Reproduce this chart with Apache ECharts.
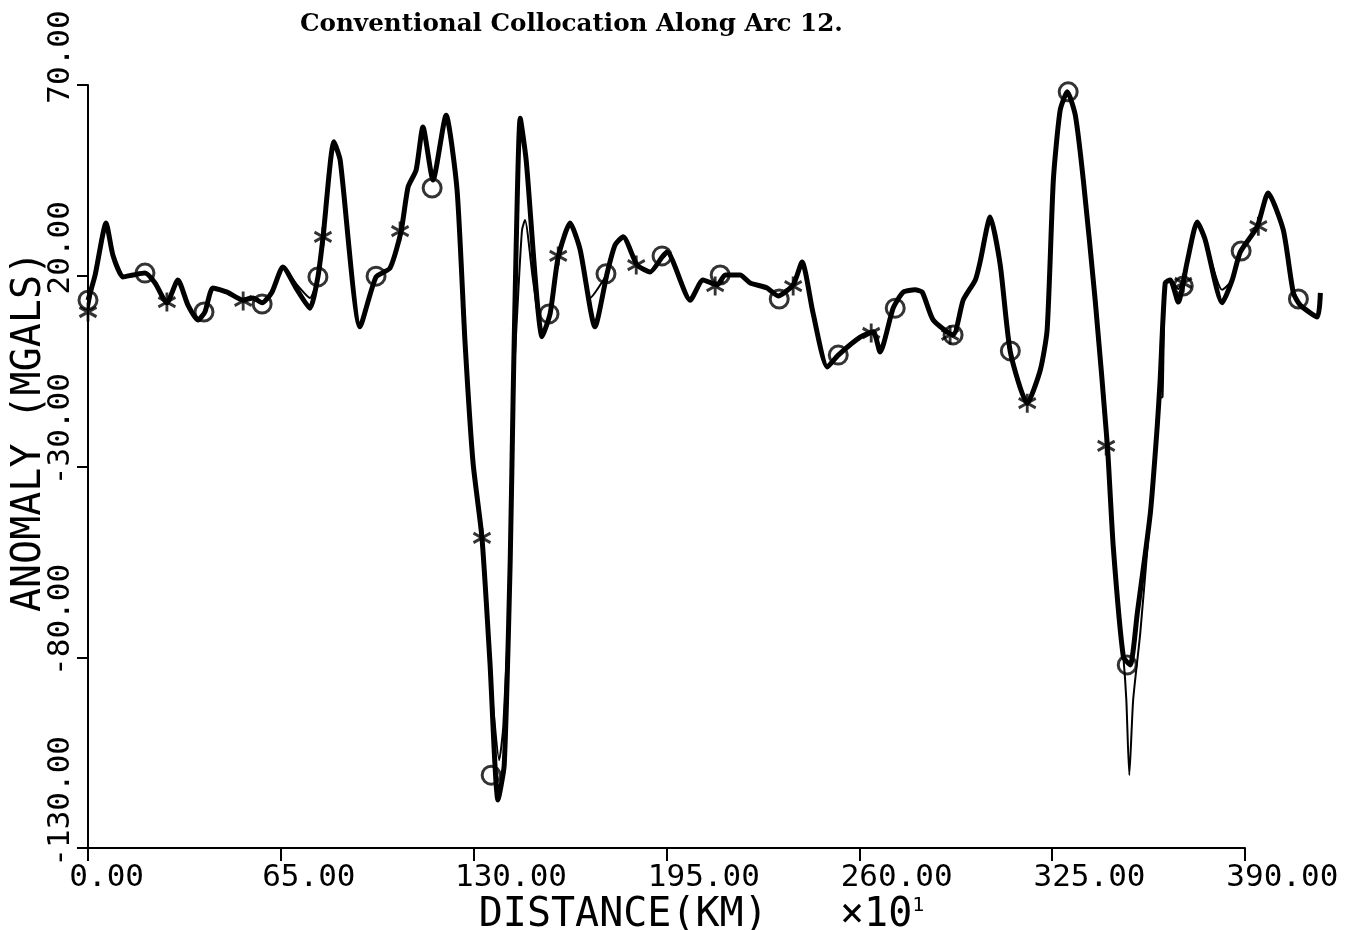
<!DOCTYPE html>
<html><head><meta charset="utf-8">
<script src="https://cdn.jsdelivr.net/npm/echarts@6/dist/echarts.min.js"></script>
<style>html,body{margin:0;padding:0;background:#fff}#c{width:1347px;height:930px}</style>
</head><body><div id="c"></div>
<script>
// Thick curve
const distance = [0,2.4,6.1,8.4,11.8,15.2,19.2,22.6,26.6,30.3,33.7,37.1,39.4,42.1,46.9,52.3,55.6,58.7,62.0,65.7,70.5,74.8,77.5,79.2,82.9,85.0,91.7,97.1,101.8,105.5,107.9,110.6,112.9,116.3,120.7,124.4,127.1,129.8,132.8,135.5,138.2,140.3,142.3,143.3,144.3,145.7,147.7,153.1,155.8,158.5,162.5,165.9,170.9,175.0,177.7,180.4,185.1,189.5,193.5,195.2,203.0,207.3,212.1,214.8,219.8,223.2,228.9,232.6,237.7,240.7,244.4,249.2,252.9,260.3,264.7,267.0,271.4,274.8,278.8,281.2,284.9,291.6,295.0,299.1,300.7,304.1,307.5,310.9,316.6,321.0,323.3,325.4,327.7,330.1,332.8,335.5,339.5,343.6,345.6,349.0,351.3,353.7,358.1,360.4,361.4,363.1,364.8,367.5,370.5,373.9,376.6,382.3,385.7,388.4,394.1,397.8,402.9,406.3,408.6,414.4,415.4];
const anomalyThick = [13.6,20.2,33.8,25.4,19.7,20.2,20.7,18.1,12.9,18.9,12.3,8.4,10.5,16.8,15.7,13.6,14.2,12.9,15.7,22.3,16.3,11.5,19.7,29.9,55.1,50.3,6.6,19.7,22.0,31.5,43.3,47.7,59.0,45.1,62.1,42.5,2.4,-29.1,-48.7,-81.5,-117.4,-108.2,-55.3,-11.8,26.8,61.3,50.3,4.0,10.2,24.9,33.8,26.8,6.6,20.7,28.1,30.2,22.8,21.0,24.9,26.2,13.6,18.9,17.6,20.2,20.2,18.1,16.8,14.7,17.6,23.6,10.2,-3.9,-0.8,3.9,5.3,0.0,11.5,15.7,16.3,15.7,8.4,4.5,13.6,18.9,23.6,35.4,22.8,0.0,-13.4,-4.7,5.8,45.1,63.4,68.2,62.1,45.1,13.6,-24.4,-51.1,-79.9,-82.0,-68.4,-42.2,-19.6,-7.3,18.1,18.9,13.1,23.6,34.1,29.4,12.9,18.9,26.2,32.8,41.7,32.0,15.5,12.3,9.2,15.5];
// Thin curve
const distanceThin = [0,2.4,6.1,8.4,11.8,15.2,19.2,22.6,26.6,30.3,33.7,37.1,39.4,42.1,46.9,52.3,55.6,58.7,62.0,65.7,70.5,74.8,77.5,79.2,82.9,85.0,91.7,97.1,101.8,105.5,107.9,110.6,112.9,116.3,120.7,124.4,127.1,129.8,132.8,135.5,136.8,138.6,140.0,142.3,143.3,145.0,146.3,147.3,150.0,153.1,155.8,158.5,162.5,165.9,169.3,175.0,177.7,180.4,185.1,189.5,193.5,195.2,203.0,207.3,212.1,214.8,219.8,223.2,228.9,232.6,237.7,240.7,244.4,249.2,252.9,260.3,264.7,267.0,271.4,274.8,278.8,281.2,284.9,291.6,295.0,299.1,300.7,304.1,307.5,310.9,316.6,321.0,323.3,325.4,327.7,330.1,332.8,335.5,339.5,343.6,345.6,349.0,350.0,351.0,352.3,354.7,358.1,360.4,361.4,362.2,363.1,364.8,367.5,370.5,373.9,376.6,382.3,385.7,388.4,394.1,397.8,402.9,406.3,408.6,414.4,415.4];
const anomalyThin = [10.5,20.2,33.8,25.4,19.7,20.2,20.7,18.1,12.9,18.9,12.3,8.4,10.5,16.8,15.7,13.6,14.2,12.9,15.7,22.3,17.6,14.2,19.7,29.9,55.1,50.3,6.6,19.7,22.0,31.5,43.3,47.7,59.0,45.1,62.1,42.5,2.4,-29.1,-48.7,-81.5,-95.0,-107.0,-98.0,-58.0,-11.8,15.0,32.0,34.6,18.9,4.0,10.2,24.9,33.8,26.8,14.2,20.7,28.1,30.2,22.8,21.0,24.9,26.2,13.6,18.9,17.6,20.2,20.2,18.1,16.8,14.7,17.6,23.6,10.2,-3.9,-0.8,3.9,5.3,0.0,11.5,15.7,16.3,15.7,8.4,4.5,13.6,18.9,23.6,35.4,22.8,0.0,-13.4,-4.7,5.8,45.1,63.4,68.2,62.1,45.1,13.6,-24.4,-51.1,-79.9,-91.2,-110.9,-91.2,-73.6,-42.2,-19.6,-12.0,-11.8,18.1,18.9,16.5,23.6,34.1,29.4,16.3,18.9,26.2,32.8,41.7,32.0,15.5,12.3,9.2,15.5];
// Circle markers
const circleDistance = [0,19.2,39.1,58.7,77.5,97.1,116.0,135.9,155.4,174.6,193.5,213.1,233.0,252.9,272.1,291.6,310.9,330.4,350.3,369.2,388.7,408.0];
const circleAnomaly = [13.6,20.7,10.5,12.6,19.7,19.9,43.0,-110.9,10.0,20.5,25.2,20.2,13.9,-0.8,11.5,4.5,0.3,68.2,-82.0,17.3,26.5,13.9];
// Asterisk markers
const starDistance = [0,26.6,52.3,79.2,105.2,132.8,158.5,184.8,211.4,237.7,264.0,290.6,316.6,343.2,369.2,394.5];
const starAnomaly = [10.5,13.1,13.4,30.2,31.7,-48.7,25.2,22.8,17.3,17.3,5.0,4.5,-13.4,-24.6,18.1,33.0];
// Axes
const xMin = 0, xMax = 390, xStep = 65;
const xDataMax = 420; // data run past the drawn axis end
const yMin = -130, yMax = 70, yStep = 50;
const yLabelsMain = [-130, -30, 20, 70];
const yLabelsAlt = [-80];
const titleText = 'Conventional Collocation Along Arc 12.';
const xName = 'DISTANCE(KM)';
const yName = 'ANOMALY (MGALS)';

const zip = (a, b) => a.map((v, i) => [v, b[i]]);
const pad = s => ' '.repeat(Math.max(0, s.length - 2)) + s;
const mono = 'DejaVu Sans Mono';
const pick = list => v => list.some(t => Math.abs(t - v) < 1e-6) ? pad(v.toFixed(2)) : '';

const W = 1347, gLeft = 88, gRight = 102, gTop = 85, gBottom = 82;
const gWidth = W - gLeft - gRight;
const dataWidth = gWidth * xDataMax / xMax;

const yLabelStyle = {color: '#000', fontFamily: mono, fontSize: 31, margin: 12, rotate: 90,
  showMinLabel: true, showMaxLabel: true, hideOverlap: false};

const chart = echarts.init(document.getElementById('c'));
chart.setOption({
  animation: false,
  backgroundColor: '#fff',
  title: {
    text: titleText, left: 295, top: 7,
    textStyle: {fontFamily: 'DejaVu Serif', fontWeight: 'bold', fontSize: 24.6, color: '#000'}
  },
  grid: [
    {left: gLeft, right: gRight, top: gTop, bottom: gBottom, containLabel: false, outerBoundsMode: 'none'},
    {left: gLeft, width: dataWidth, top: gTop, bottom: gBottom, containLabel: false, outerBoundsMode: 'none'}
  ],
  xAxis: [{
    type: 'value', gridIndex: 0, min: xMin, max: xMax, interval: xStep,
    axisLine: {onZero: false, lineStyle: {color: '#000', width: 2}},
    axisTick: {length: 13, lineStyle: {color: '#000', width: 2}},
    splitLine: {show: false},
    axisLabel: {color: '#000', fontFamily: mono, fontSize: 31, margin: 14, showMinLabel: true, showMaxLabel: true, hideOverlap: false,
      formatter: v => pad(v.toFixed(2))},
    name: '{a|' + xName + '   ×10}{s|1}',
    nameLocation: 'middle', nameGap: 48, nameMoveOverlap: false,
    nameTextStyle: {padding: [0, 0, 0, 70],
      rich: {a: {fontFamily: mono, fontSize: 40, color: '#000'},
             s: {fontFamily: mono, fontSize: 20, color: '#000', verticalAlign: 'top'}}}
  }, {
    type: 'value', gridIndex: 1, min: xMin, max: xDataMax, show: false
  }],
  yAxis: [{
    type: 'value', gridIndex: 0, min: yMin, max: yMax, interval: yStep,
    axisLine: {onZero: false, lineStyle: {color: '#000', width: 2}},
    axisTick: {length: 11, lineStyle: {color: '#000', width: 2}},
    splitLine: {show: false},
    axisLabel: Object.assign({}, yLabelStyle, {formatter: pick(yLabelsMain)}),
    name: yName, nameLocation: 'middle', nameGap: 38, nameMoveOverlap: false,
    nameTextStyle: {fontFamily: mono, fontSize: 40, color: '#000', padding: [0, 0, 0, 70]}
  }, {
    type: 'value', gridIndex: 0, min: yMin, max: yMax, interval: yStep, position: 'left',
    axisLine: {show: false, onZero: false}, axisTick: {show: false}, splitLine: {show: false},
    axisLabel: Object.assign({}, yLabelStyle, {formatter: pick(yLabelsAlt)})
  }, {
    type: 'value', gridIndex: 1, min: yMin, max: yMax, show: false
  }],
  series: [
    {type: 'line', xAxisIndex: 1, yAxisIndex: 2, data: zip(distanceThin, anomalyThin), showSymbol: false, smooth: 0.2, clip: false,
     lineStyle: {color: '#000', width: 2}, z: 2},
    {type: 'line', xAxisIndex: 1, yAxisIndex: 2, data: zip(distance, anomalyThick), showSymbol: false, smooth: 0.2, clip: false,
     lineStyle: {color: '#000', width: 5}, z: 3},
    {type: 'scatter', xAxisIndex: 1, yAxisIndex: 2, data: zip(circleDistance, circleAnomaly), symbol: 'circle', symbolSize: 18, clip: false,
     itemStyle: {color: 'rgba(0,0,0,0)', borderColor: '#000', borderWidth: 3}, z: 4},
    {type: 'scatter', xAxisIndex: 1, yAxisIndex: 2, data: zip(starDistance, starAnomaly), clip: false,
     symbol: 'path://M8,0 L8,16 M1,4 L15,12 M1,12 L15,4', symbolSize: [17, 19],
     itemStyle: {color: 'rgba(0,0,0,0)', borderColor: '#000', borderWidth: 3}, z: 4}
  ]
});
</script></body></html>
